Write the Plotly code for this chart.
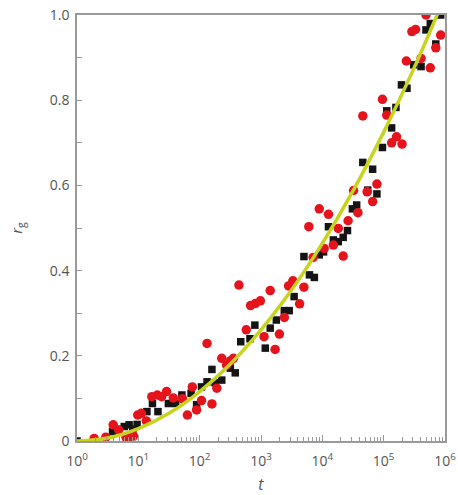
import numpy as np
import plotly.graph_objects as go

# Black squares: log10(t) and r_g
black_log_t = [0.00, 0.58, 0.67, 0.77, 0.85, 0.91, 0.98, 1.14, 1.23, 1.32, 1.49, 1.61, 1.71, 1.86,
               1.95, 2.03, 2.12, 2.20, 2.25, 2.36, 2.50, 2.58, 2.67, 2.82, 2.90, 3.07, 3.15, 3.25,
               3.38, 3.46, 3.54, 3.70, 3.79, 3.87, 3.95, 4.02, 4.10, 4.18, 4.26, 4.34, 4.41, 4.49,
               4.56, 4.66, 4.74, 4.82, 4.89, 4.98, 5.05, 5.13, 5.20, 5.29, 5.38, 5.49, 5.61, 5.69,
               5.76, 5.85, 5.93]
black_r = [0.000, 0.022, 0.027, 0.034, 0.038, 0.028, 0.039, 0.069, 0.088, 0.069, 0.088, 0.088, 0.108, 0.112,
           0.085, 0.127, 0.139, 0.168, 0.137, 0.143, 0.171, 0.160, 0.233, 0.240, 0.272, 0.218, 0.265, 0.284,
           0.306, 0.306, 0.339, 0.433, 0.390, 0.384, 0.437, 0.444, 0.503, 0.472, 0.468, 0.478, 0.494, 0.545,
           0.554, 0.654, 0.589, 0.638, 0.580, 0.689, 0.775, 0.735, 0.783, 0.836, 0.828, 0.883, 0.879, 0.965,
           0.980, 0.932, 1.000]

# Red circles: log10(t) and r_g
red_log_t = [0.28, 0.47, 0.59, 0.68, 0.80, 0.86, 0.92, 0.99, 1.05, 1.13, 1.22, 1.31, 1.38, 1.46,
             1.57, 1.72, 1.80, 1.88, 1.95, 2.03, 2.12, 2.20, 2.28, 2.36, 2.44, 2.50, 2.55, 2.64,
             2.76, 2.83, 2.91, 2.99, 3.05, 3.15, 3.23, 3.30, 3.38, 3.45, 3.52, 3.63, 3.70, 3.78,
             3.85, 3.95, 4.03, 4.10, 4.18, 4.26, 4.34, 4.42, 4.51, 4.58, 4.66, 4.73, 4.82, 4.89,
             4.98, 5.05, 5.13, 5.21, 5.30, 5.37, 5.46, 5.52, 5.61, 5.69, 5.76, 5.85, 5.93]
red_r = [0.006, 0.009, 0.038, 0.026, 0.008, 0.008, 0.012, 0.061, 0.065, 0.047, 0.104, 0.108, 0.104, 0.116,
         0.101, 0.099, 0.061, 0.127, 0.073, 0.095, 0.229, 0.087, 0.124, 0.194, 0.178, 0.188, 0.194, 0.366,
         0.261, 0.318, 0.323, 0.329, 0.245, 0.353, 0.215, 0.251, 0.290, 0.364, 0.376, 0.322, 0.361, 0.503,
         0.431, 0.545, 0.452, 0.532, 0.460, 0.499, 0.434, 0.517, 0.588, 0.536, 0.763, 0.585, 0.562, 0.603,
         0.802, 0.765, 0.700, 0.714, 0.697, 0.892, 0.961, 0.966, 0.898, 1.000, 0.876, 0.923, 0.953]

# Fitted curve
curve_log_t = [0.0, 0.5, 1.0, 1.5, 2.0, 2.5, 3.0, 3.5, 4.0, 4.5, 5.0, 5.5, 6.0]
curve_r = [0.000, 0.007, 0.029, 0.065, 0.116, 0.181, 0.261, 0.355, 0.464, 0.587, 0.725, 0.877, 1.044]

x_tick_exp = [0, 1, 2, 3, 4, 5, 6]
y_tick_vals = [0, 0.2, 0.4, 0.6, 0.8, 1.0]
y_tick_text = ["0", "0.2", "0.4", "0.6", "0.8", "1.0"]

to_t = lambda v: [10 ** e for e in v]

fig = go.Figure()
fig.add_trace(go.Scatter(x=to_t(black_log_t), y=black_r, mode="markers",
                         marker=dict(symbol="square", size=7.5, color="#141414"),
                         showlegend=False))
fig.add_trace(go.Scatter(x=to_t(red_log_t), y=red_r, mode="markers",
                         marker=dict(symbol="circle", size=9.5, color="#e5141c"),
                         showlegend=False))
fig.add_trace(go.Scatter(x=to_t(curve_log_t), y=curve_r, mode="lines",
                         line=dict(color="#c6d41c", width=3.5, shape="spline"),
                         showlegend=False))

minor_x = [m * 10 ** k for k in range(6) for m in range(2, 10)]
axis_color = "#9a9a9a"
tick_font = dict(family="Open Sans, Lato, sans-serif", size=14, color="#555555")

fig.update_xaxes(type="log", range=[0, 6], automargin=False,
                 tickvals=[10 ** e for e in x_tick_exp],
                 ticktext=[f"10<sup>{e}</sup>" for e in x_tick_exp],
                 ticks="inside", ticklen=6, tickcolor=axis_color, tickwidth=1,
                 minor=dict(tickvals=minor_x, ticks="inside", ticklen=4,
                            tickcolor=axis_color, tickwidth=1),
                 showline=True, linecolor=axis_color, linewidth=1.5, mirror=True,
                 showgrid=False, zeroline=False, tickfont=tick_font,
                 ticklabelstandoff=6,
                 title=dict(text="<i>t</i>", font=dict(family="Open Sans, sans-serif", size=16, color="#555555"),
                            standoff=13))
fig.update_yaxes(range=[0, 1.0], automargin=False,
                 tickvals=y_tick_vals, ticktext=y_tick_text,
                 ticks="inside", ticklen=5, tickcolor=axis_color, tickwidth=1,
                 minor=dict(tickvals=[0.1, 0.3, 0.5, 0.7, 0.9], ticks="inside", ticklen=5,
                            tickcolor=axis_color, tickwidth=1),
                 showline=True, linecolor=axis_color, linewidth=1.5, mirror=True,
                 showgrid=False, zeroline=False, tickfont=tick_font,
                 ticklabelstandoff=3,
                 title=dict(text="<i>r</i><sub>g</sub>", font=dict(family="Open Sans, sans-serif", size=15, color="#555555"),
                            standoff=24))

fig.update_layout(width=458, height=495,
                  margin=dict(l=77, r=13, t=15, b=54),
                  plot_bgcolor="white", paper_bgcolor="white")

fig.write_html("out.html", config={"displayModeBar": False},
               post_script="document.body.style.margin='0';")
